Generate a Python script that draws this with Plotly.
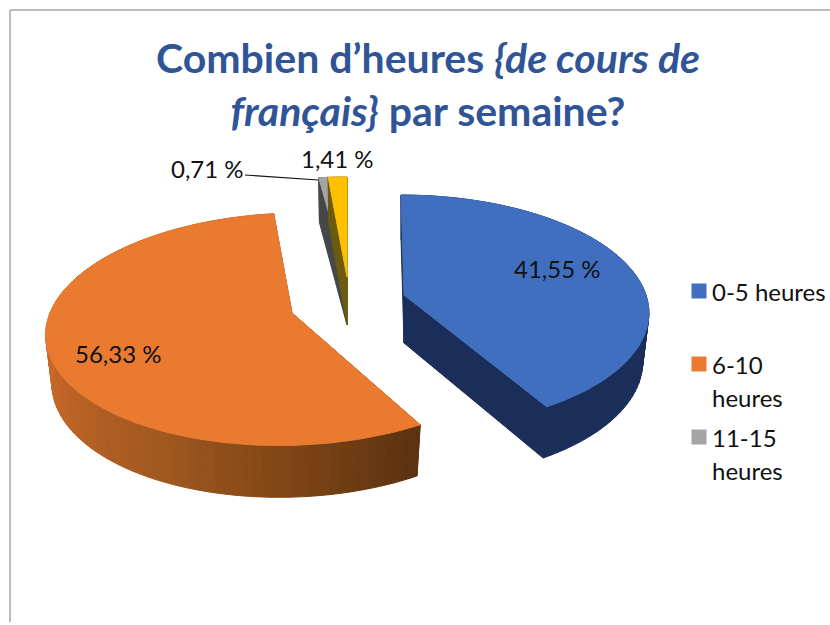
import math
import plotly.graph_objects as go

categories = ["0-5 heures", "6-10 heures", "11-15 heures", "16-20 heures"]
legend_names = [["0-5 heures"], ["6-10", "heures"], ["11-15", "heures"]]
values = [41.55, 56.33, 0.71, 1.41]
top_colors = ["#406FBF", "#E97A2F", "#A5A5A5", "#FFC000"]
edge_colors = ["#1B2E5A", "#6B3A12", "#45474A", "#6B5A10"]
title_html = ("<b>Combien d’heures <i>{de cours de</i><br>"
              "<i>français}</i> par semaine?</b>")

APEX = [(404, 295), (292, 313), (347, 277), (347, 277)]
SHEAR = [-0.03, 0.10, 0.0, 0.0]
LABEL_POS = [(557, 268), (118, 353), (207, 168), (337, 158)]
LEGEND_Y = [291, 364, 437]
RX, RY, K, DEPTH, BOTTOM_SCALE = 242, 114, 0.14, 48, 0.975
TEXT = "#111111"


def project(i, deg):
    t = math.radians(deg)
    p = 1 / (1 + K * math.cos(t))
    dx = RX * math.sin(t) * p
    dy = -RY * math.cos(t) * p
    return APEX[i][0] + dx - SHEAR[i] * dy, APEX[i][1] + dy, DEPTH * p ** 0.5


def lower(i, x, y, d):
    return APEX[i][0] + (x - APEX[i][0]) * BOTTOM_SCALE, y + d


def mix(c1, c2, f):
    a = [int(c1[j:j + 2], 16) for j in (1, 3, 5)]
    b = [int(c2[j:j + 2], 16) for j in (1, 3, 5)]
    return "#%02x%02x%02x" % tuple(round(u + (v - u) * f) for u, v in zip(a, b))


ORANGE_SIDE = [(149, "#5A3110"), (175, "#7A4315"), (205, "#A0581E"),
               (240, "#C06427"), (265, "#C96B2A"), (285, "#B55E22")]
BLUE_SIDE = [(0, "#1B2E5A"), (150, "#1B2E5A")]


def side_color(i, deg):
    stops = {0: BLUE_SIDE, 1: ORANGE_SIDE}.get(i)
    if not stops:
        return edge_colors[i]
    if deg <= stops[0][0]:
        return stops[0][1]
    for (a0, c0), (a1, c1) in zip(stops, stops[1:]):
        if deg <= a1:
            return mix(c0, c1, (deg - a0) / (a1 - a0))
    return stops[-1][1]


fig = go.Figure()


def poly(pts, color):
    fig.add_trace(go.Scatter(
        x=[p[0] for p in pts] + [pts[0][0]], y=[p[1] for p in pts] + [pts[0][1]],
        mode="lines", fill="toself", fillcolor=color,
        line=dict(color=color, width=1), showlegend=False, hoverinfo="skip"))


start = 0.0
for i, v in enumerate(values):
    end = start + v * 3.6
    ax, ay = APEX[i]
    for deg in (start, end):
        x, y, d = project(i, deg)
        poly([(ax, ay), (x, y), lower(i, x, y, d), (ax, ay + DEPTH)], edge_colors[i])
    n = max(2, int((end - start) / 2))
    angles = [start + (end - start) * j / n for j in range(n + 1)]
    for a0, a1 in zip(angles, angles[1:]):
        x0, y0, d0 = project(i, a0)
        x1, y1, d1 = project(i, a1)
        poly([(x0, y0), (x1, y1), lower(i, x1, y1, d1), lower(i, x0, y0, d0)],
             side_color(i, (a0 + a1) / 2))
    n = max(4, int(end - start))
    arc = [project(i, start + (end - start) * j / n)[:2] for j in range(n + 1)]
    poly([(ax, ay)] + arc, top_colors[i])
    start = end

# legend keys
fig.add_trace(go.Scatter(x=[699] * 3, y=LEGEND_Y, mode="markers",
                         marker=dict(symbol="square", size=15, color=top_colors[:3]),
                         showlegend=False, hoverinfo="skip"))
for lines, y in zip(legend_names, LEGEND_Y):
    for j, line in enumerate(lines):
        fig.add_annotation(x=710, y=y + j * 33, text=line, xanchor="left", showarrow=False,
                           font=dict(family="Lato", size=24, color=TEXT))

fig.add_trace(go.Scatter(x=[245, 318], y=[175, 180], mode="lines",
                         line=dict(color="#111111", width=1.2),
                         showlegend=False, hoverinfo="skip"))

for v, (lx, ly) in zip(values, LABEL_POS):
    fig.add_annotation(x=lx, y=ly, text=f"{v:.2f} %".replace(".", ","),
                       showarrow=False, font=dict(family="Lato", size=24, color=TEXT))

for x0, y0, x1, y1 in [(10, 10, 10, 622), (10, 10, 830, 10)]:
    fig.add_shape(type="line", x0=x0, y0=y0, x1=x1, y1=y1,
                  line=dict(color="#A6A6A6", width=1.5))

fig.update_layout(
    width=830, height=625, margin=dict(l=0, r=0, t=0, b=0),
    paper_bgcolor="white", plot_bgcolor="white", showlegend=False,
    title=dict(text=title_html, x=428 / 830, xanchor="center", y=1 - 73 / 625,
               yanchor="top", font=dict(family="Lato", size=41, color="#2F5597")),
    xaxis=dict(range=[0, 830], visible=False),
    yaxis=dict(range=[625, 0], visible=False),
)
fig.write_html("out.html", config=dict(displayModeBar=False),
               post_script="document.body.style.margin='0';")
